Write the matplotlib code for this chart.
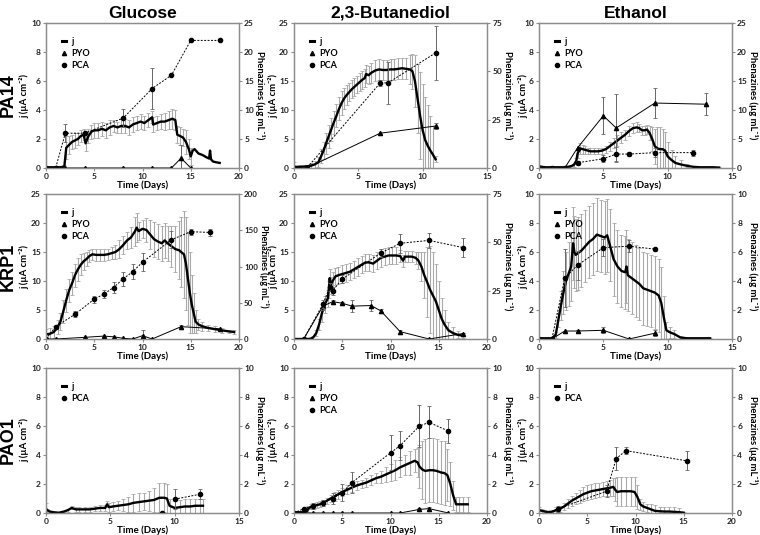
import numpy as np
import matplotlib.pyplot as plt
from matplotlib.lines import Line2D

plt.rcParams['font.family'] = ['Lato', 'DejaVu Sans']
plt.rcParams['font.weight'] = 'bold'

# ---------------- PA14 / Glucose ----------------
pa14_glu_t = [0, 0.5, 1, 1.5, 1.9, 2.1, 2.4, 2.7, 3, 3.3, 3.6, 3.9, 4.1, 4.4, 4.7, 5, 5.4, 5.8, 6.2, 6.6,
              7, 7.4, 7.8, 8.2, 8.6, 9, 9.4, 9.8, 10.2, 10.6, 11, 11.1, 11.5, 11.9, 12.3, 12.7, 13.1, 13.4,
              13.6, 13.9, 14.2, 14.5, 14.8, 15, 15.2, 15.4, 15.8, 16.2, 16.6, 16.9, 17, 17.1, 17.3, 17.6, 18]
pa14_glu_j = [0.05, 0.05, 0.05, 0.05, 0.1, 1.4, 1.6, 1.8, 1.9, 2.0, 2.2, 2.3, 1.7, 2.2, 2.5, 2.6, 2.6, 2.7,
              2.6, 2.8, 2.9, 2.8, 2.9, 2.9, 2.8, 3.0, 3.1, 3.2, 3.1, 3.3, 3.5, 3.0, 3.1, 3.2, 3.2, 3.3, 3.4,
              3.3, 2.3, 2.2, 2.1, 1.8, 1.3, 0.8, 1.2, 1.3, 1.0, 0.9, 0.75, 0.65, 1.2, 0.6, 0.45, 0.4, 0.35]
pa14_glu_jerr = [0, 0, 0, 0, 0.1, 0.8, 0.6, 0.5, 0.5, 0.4, 0.4, 0.4, 0.5, 0.5, 0.5, 0.5, 0.5, 0.5, 0.5,
                 0.5, 0.4, 0.4, 0.5, 0.5, 0.5, 0.5, 0.5, 0.5, 0.5, 0.5, 0.4, 0.5, 0.5, 0.5, 0.6, 0.6, 0.7,
                 0.7, 0.6, 0.6, 0.6, 0.8, 0.7, 0.6, 0, 0, 0, 0, 0, 0, 0, 0, 0, 0, 0]
pa14_glu_pca_t = [0, 1, 2, 4, 8, 11, 13, 15, 18]
pa14_glu_pca = [0, 0, 6.0, 6.0, 8.6, 13.7, 16, 22, 22]
pa14_glu_pca_err = [0, 0, 1.6, 0, 1.5, 3.6, 0, 0, 0]
pa14_glu_pyo_t = [0, 1, 2, 4, 8, 11, 13, 14, 15]
pa14_glu_pyo = [0, 0, 0, 0, 0, 0, 0, 1.7, 0]
pa14_glu_pyo_err = [0, 0, 0, 0, 0, 0, 0, 2.2, 0]

# ---------------- PA14 / 2,3-Butanediol ----------------
pa14_but_t = [0, 0.5, 1, 1.3, 1.6, 1.9, 2.1, 2.3, 2.5, 2.7, 2.9, 3.1, 3.3, 3.5, 3.7, 3.9, 4.1, 4.3, 4.5, 4.7,
              4.9, 5.1, 5.3, 5.5, 5.6, 5.8, 6.0, 6.3, 6.6, 6.9, 7.2, 7.5, 7.8, 8.1, 8.4, 8.7, 9.0, 9.2, 9.4,
              9.6, 9.8, 10.0, 10.2, 10.4, 10.6, 10.8, 11.0]
pa14_but_j = [0.2, 0.2, 0.3, 0.4, 0.6, 1.0, 2.0, 3.0, 4.3, 5.5, 6.7, 7.9, 9.0, 10.2, 11.2, 12.0, 12.6, 13.1,
              13.6, 14.0, 14.4, 14.8, 15.2, 15.5, 16.2, 16.0, 16.4, 16.8, 17.0, 16.9, 16.9, 17.0, 17.0, 17.1,
              17.2, 17.1, 17.0, 16.7, 15.0, 12.0, 9.0, 6.5, 4.8, 3.8, 3.0, 2.3, 1.5]
pa14_but_jerr = [0.8, 0.3, 0.3, 0.4, 0.6, 0.9, 1.2, 1.5, 1.8, 2.0, 2.0, 2.0, 2.0, 2.0, 2.0, 1.8, 1.7, 1.6,
                 1.5, 1.5, 1.5, 1.5, 1.5, 1.5, 1.5, 1.6, 1.7, 1.8, 1.8, 1.8, 1.8, 1.8, 1.8, 1.8, 1.8, 1.8,
                 2.5, 3.0, 4.5, 6.0, 7.5, 8.0, 7.5, 7.0, 6.0, 5.0, 0.5]
pa14_but_pca_t = [0, 1, 6.7, 7.3, 11]
pa14_but_pca = [0, 0, 44, 44, 59.5]
pa14_but_pca_err = [0, 0, 1.5, 11, 14]
pa14_but_pyo_t = [0, 1, 6.7, 11]
pa14_but_pyo = [0, 0, 18, 21.7]
pa14_but_pyo_err = [0, 0, 0, 1.5]

# ---------------- PA14 / Ethanol ----------------
pa14_eth_t = [0, 0.5, 1, 1.5, 2, 2.4, 2.7, 2.9, 3.0, 3.2, 3.4, 3.6, 3.8, 4.0, 4.3, 4.6, 4.9, 5.2, 5.5, 5.8,
              6.1, 6.4, 6.7, 7.0, 7.3, 7.6, 7.8, 8.0, 8.2, 8.4, 8.6, 8.8, 9.0, 9.2, 9.4, 9.6, 9.8, 10.0,
              10.3, 10.6, 11.0, 11.5, 12, 12.5, 13, 13.5, 14]
pa14_eth_j = [0.1, 0.05, 0.05, 0.05, 0.05, 0.1, 0.2, 0.5, 1.0, 1.35, 1.3, 1.25, 1.2, 1.15, 1.15, 1.15, 1.2,
              1.3, 1.5, 1.7, 1.9, 2.1, 2.3, 2.55, 2.75, 2.8, 2.75, 2.6, 2.6, 2.65, 2.4, 2.0, 1.5, 1.35, 1.3,
              1.3, 1.2, 0.8, 0.55, 0.35, 0.25, 0.15, 0.08, 0.05, 0.05, 0.05, 0.03]
pa14_eth_jerr = [0.1, 0.05, 0.05, 0.05, 0.05, 0.05, 0.1, 0.2, 0.3, 0.35, 0.3, 0.25, 0.2, 0.2, 0.2, 0.2, 0.2,
                 0.25, 0.3, 0.35, 0.35, 0.35, 0.35, 0.35, 0.35, 0.35, 0.3, 0.3, 0.3, 0.3, 0.5, 0.8, 1.2,
                 1.5, 1.5, 1.4, 1.3, 1.0, 0.7, 0.5, 0.3, 0.1, 0.05, 0.05, 0.05, 0.03, 0.03]
pa14_eth_pyo_t = [0, 1, 2, 3, 5, 6, 9, 13]
pa14_eth_pyo = [0, 0, 0, 3.5, 9.0, 6.9, 11.2, 11.0]
pa14_eth_pyo_err = [0, 0, 0, 0, 3.2, 5.8, 2.6, 1.85]
pa14_eth_pca_t = [0, 1, 2, 3, 5, 6, 7, 9, 12]
pa14_eth_pca = [0, 0, 0, 0.9, 1.6, 2.4, 2.4, 2.65, 2.65]
pa14_eth_pca_err = [0.3, 0, 0, 0.3, 0.6, 1.2, 0.4, 0.8, 0.5]

# ---------------- KRP1 / Glucose ----------------
krp1_glu_t = [0, 0.4, 0.8, 1.2, 1.5, 1.8, 2.1, 2.4, 2.7, 3.0, 3.3, 3.6, 3.9, 4.2, 4.5, 4.8, 5.2, 5.6, 6.0, 6.4,
              6.8, 7.2, 7.6, 8.0, 8.4, 8.8, 9.2, 9.4, 9.6, 10.0, 10.4, 10.8, 11.2, 11.6, 12.0, 12.3, 12.6,
              13.0, 13.4, 13.8, 14.0, 14.3, 14.5, 14.7, 14.9, 15.1, 15.3, 15.5, 15.8, 16.2, 16.8, 17.5,
              18.2, 19, 19.5]
krp1_glu_j = [0.8, 0.9, 1.2, 2.0, 3.0, 4.8, 6.7, 8.4, 9.6, 11.0, 12.0, 12.8, 13.4, 13.8, 14.3, 14.6, 14.5,
              14.5, 14.5, 14.6, 14.8, 15.0, 15.5, 16.2, 17.0, 17.5, 18.5, 19.2, 18.6, 19.0, 18.8, 18.0, 17.2,
              16.8, 16.5, 17.0, 16.5, 16.0, 15.5, 15.3, 15.0, 14.6, 13.0, 10.5, 8.0, 6.0, 4.5, 3.0, 2.5, 2.2,
              1.9, 1.7, 1.5, 1.3, 1.2]
krp1_glu_jerr = [1.0, 1.0, 1.0, 1.2, 1.5, 2.0, 2.0, 2.0, 2.0, 2.0, 2.0, 1.8, 1.5, 1.2, 1.0, 1.0, 1.0, 1.0,
                 1.0, 1.0, 1.0, 1.2, 1.5, 1.5, 1.5, 1.8, 2.5, 2.5, 1.5, 1.5, 2.0, 2.5, 3.0, 3.0, 3.0, 3.0,
                 3.0, 3.5, 4.0, 5.0, 6.0, 7.5, 8.0, 8.0, 7.0, 5.0, 3.5, 2.0, 1.0, 0.8, 0.6, 0.5, 0.4, 0.3, 0.3]
krp1_glu_pca_t = [0, 1, 3, 5, 6, 7, 8, 9, 10, 13, 15, 17]
krp1_glu_pca = [0, 17, 34, 55, 62, 71, 83, 93, 106, 137, 148, 147]
krp1_glu_pca_err = [0, 3, 4, 5, 5, 7, 10, 10, 12, 12, 4, 5]
krp1_glu_pyo_t = [0, 1, 4, 6, 7, 8, 9, 10, 11, 14, 18]
krp1_glu_pyo = [0, 0, 2.3, 4, 3, 1, 0, 4.6, 0, 17, 14]
krp1_glu_pyo_err = [0, 0, 0, 0, 0, 0, 0, 8, 0, 3, 0]

# ---------------- KRP1 / 2,3-Butanediol ----------------
krp1_but_t = [0, 1, 1.5, 1.8, 2.0, 2.3, 2.6, 2.9, 3.2, 3.5, 3.6, 3.7, 3.8, 4.0, 4.3, 4.6, 5.0, 5.4, 5.8, 6.2,
              6.6, 7.0, 7.4, 7.8, 8.2, 8.6, 9.0, 9.4, 9.8, 10.2, 10.6, 11.0, 11.3, 11.5, 11.8, 12.2, 12.6,
              12.9, 13.2, 13.5, 13.8, 14.1, 14.4, 14.7, 15.0, 15.3, 15.6, 16.0, 16.5, 17.0, 17.5]
krp1_but_j = [0, 0, 0, 0.1, 0.3, 1.0, 2.5, 4.5, 6.0, 7.0, 8.5, 10.5, 9.2, 10.0, 10.8, 11.0, 11.2, 11.4,
              11.6, 12.0, 12.4, 12.8, 13.2, 13.2, 13.0, 13.5, 14.0, 14.2, 14.4, 14.4, 14.4, 14.3, 13.5,
              14.2, 14.2, 14.2, 14.0, 13.5, 12.5, 11.0, 9.8, 8.5, 7.5, 6.5, 5.0, 3.5, 2.5, 1.5, 1.0, 0.7, 0.6]
krp1_but_jerr = [0, 0, 0, 0.1, 0.3, 0.5, 1.0, 1.5, 1.5, 1.5, 1.5, 1.5, 1.5, 1.5, 1.5, 1.5, 1.5, 1.5, 1.5,
                 1.5, 1.5, 1.5, 1.5, 1.5, 1.5, 1.5, 1.5, 1.5, 1.5, 1.5, 1.5, 1.0, 1.0, 1.0, 1.0, 1.0, 1.0,
                 1.5, 2.5, 4.0, 6.0, 7.5, 7.5, 6.5, 5.0, 3.5, 2.5, 1.5, 1.0, 0.6, 0.5]
krp1_but_pca_t = [1, 3, 3.7, 4, 5, 9, 11, 14, 17.5]
krp1_but_pca = [0, 18, 27, 25, 31, 44.5, 49.5, 51, 47.3]
krp1_but_pca_err = [0, 2, 2, 2, 2, 2, 5, 4, 5]
krp1_but_pyo_t = [1, 3, 4, 5, 6, 8, 9, 11, 14, 17.5]
krp1_but_pyo = [0, 17, 19.3, 18.5, 17, 17.3, 14.5, 3.8, 0, 2.8]
krp1_but_pyo_err = [0, 2, 1, 0.5, 3, 3, 1, 1, 0, 0.5]

# ---------------- KRP1 / Ethanol ----------------
krp1_eth_t = [0, 0.5, 1, 1.3, 1.5, 1.7, 1.9, 2.1, 2.3, 2.5, 2.65, 2.75, 2.85, 3.0, 3.3, 3.6, 3.9, 4.2, 4.5,
              4.8, 5.1, 5.3, 5.5, 5.8, 6.1, 6.4, 6.7, 6.8, 6.9, 7.2, 7.5, 7.8, 8.1, 8.4, 8.7, 9.0, 9.3, 9.5,
              9.7, 9.9, 10.2, 10.5, 11, 11.5, 12, 12.5, 13, 13.3]
krp1_eth_j = [0.05, 0.05, 0.05, 0.3, 1.3, 2.3, 3.2, 4.0, 4.5, 5.0, 6.6, 6.0, 5.8, 5.9, 6.1, 6.4, 6.7, 6.9,
              7.2, 7.1, 7.0, 7.15, 6.5, 5.5, 5.0, 4.7, 4.6, 5.0, 4.4, 4.2, 4.0, 3.8, 3.5, 3.4, 3.3, 3.2, 3.0,
              2.5, 1.5, 0.6, 0.45, 0.35, 0.1, 0.05, 0.05, 0.05, 0.05, 0.05]
krp1_eth_jerr = [0.05, 0.05, 0.05, 0.2, 0.5, 1.0, 1.5, 2.0, 2.2, 2.4, 2.5, 2.5, 2.5, 2.5, 2.5, 2.5, 2.5,
                 2.5, 2.5, 2.5, 2.5, 2.5, 2.5, 2.5, 2.5, 2.5, 2.5, 2.5, 2.5, 2.5, 2.5, 2.5, 2.5, 2.5, 2.5,
                 2.5, 2.5, 2.5, 1.5, 0.6, 0.4, 0.3, 0.1, 0.05, 0.05, 0.05, 0.05, 0.05]
krp1_eth_pca_t = [0, 1, 2, 3, 5, 7, 9]
krp1_eth_pca = [0, 0, 4.2, 5.1, 6.3, 6.4, 6.2]
krp1_eth_pca_err = [0, 0, 2.0, 1.0, 0.6, 0.4, 0.1]
krp1_eth_pyo_t = [1, 2, 3, 5, 7, 9]
krp1_eth_pyo = [0, 0.55, 0.55, 0.6, 0, 0.4]
krp1_eth_pyo_err = [0, 0, 0.1, 0.2, 0, 0.2]

# ---------------- PAO1 / Glucose ----------------
pao1_glu_t = [0, 0.1, 0.3, 0.6, 1.0, 1.4, 1.7, 2.0, 2.3, 2.6, 3.0, 3.4, 3.8, 4.2, 4.6, 4.75, 4.9, 5.2, 5.6,
              6.0, 6.4, 6.8, 7.2, 7.6, 8.0, 8.4, 8.8, 9.2, 9.4, 9.6, 10.0, 10.4, 10.8, 11.2, 11.6, 12.0, 12.2]
pao1_glu_j = [0.3, 0.2, 0.1, 0.05, 0.02, 0.1, 0.2, 0.35, 0.25, 0.25, 0.25, 0.25, 0.3, 0.35, 0.35, 0.6, 0.4,
              0.45, 0.5, 0.55, 0.6, 0.7, 0.75, 0.8, 0.85, 0.9, 1.05, 1.05, 1.0, 0.5, 0.35, 0.4, 0.45, 0.45,
              0.5, 0.5, 0.5]
pao1_glu_jerr = [0.4, 0.1, 0.05, 0.02, 0.02, 0.05, 0.1, 0.1, 0.15, 0.15, 0.15, 0.15, 0.15, 0.2, 0.2, 0.2,
                 0.3, 0.3, 0.3, 0.4, 0.5, 0.6, 0.6, 0.6, 0.7, 0.8, 1.0, 1.0, 1.0, 0.5, 0.5, 0.5, 0.5, 0.5,
                 0.5, 0.5, 0.5]
pao1_glu_pca_t = [9, 10, 12]
pao1_glu_pca = [0, 0.95, 1.3]
pao1_glu_pca_err = [0, 0.7, 0.35]

# ---------------- PAO1 / 2,3-Butanediol ----------------
pao1_but_t = [0, 0.5, 1, 1.3, 1.5, 1.8, 2.1, 2.4, 2.7, 3.0, 3.4, 3.8, 4.2, 4.6, 5.0, 5.5, 6.0, 6.5, 7.0, 7.5,
              8.0, 8.5, 9.0, 9.5, 10.0, 10.5, 11.0, 11.5, 12.0, 12.5, 12.8, 13.0, 13.3, 13.6, 14.0, 14.4,
              14.8, 15.2, 15.6, 15.9, 16.2, 16.5, 16.8, 17.1, 17.5, 18.0]
pao1_but_j = [0.05, 0.05, 0.05, 0.1, 0.3, 0.45, 0.5, 0.55, 0.6, 0.7, 0.85, 1.0, 1.15, 1.3, 1.45, 1.6, 1.75,
              1.9, 2.0, 2.1, 2.25, 2.4, 2.5, 2.65, 2.8, 2.95, 3.15, 3.3, 3.45, 3.6, 3.5, 3.2, 3.0, 2.9, 2.95,
              2.95, 2.9, 2.8, 2.75, 2.6, 2.0, 1.2, 0.6, 0.6, 0.6, 0.6]
pao1_but_jerr = [0.1, 0.1, 0.1, 0.15, 0.2, 0.2, 0.2, 0.2, 0.2, 0.2, 0.2, 0.25, 0.3, 0.3, 0.3, 0.3, 0.3, 0.3,
                 0.3, 0.3, 0.35, 0.35, 0.4, 0.5, 0.6, 0.7, 0.7, 0.7, 0.8, 0.8, 1.0, 1.5, 2.0, 2.2, 2.2, 2.2,
                 2.2, 2.2, 2.2, 1.8, 1.5, 1.0, 0.5, 0.5, 0.5, 0.5]
pao1_but_pca_t = [0, 1, 2, 3, 4, 5, 6, 10, 11, 13, 14, 16]
pao1_but_pca = [0, 0.3, 0.5, 0.7, 1.0, 1.4, 2.1, 4.15, 4.65, 6.0, 6.25, 5.65]
pao1_but_pca_err = [0, 0, 0.2, 0.2, 0.35, 0.6, 0.7, 1.2, 1.0, 1.45, 1.1, 0.8]
pao1_but_pyo_t = [0, 1, 2, 3, 4, 5, 6, 10, 11, 13, 14, 16]
pao1_but_pyo = [0, 0, 0, 0, 0, 0, 0, 0, 0, 0.25, 0.3, 0]
pao1_but_pyo_err = [0, 0, 0, 0, 0, 0, 0, 0, 0, 0.1, 0.1, 0]

# ---------------- PAO1 / Ethanol ----------------
pao1_eth_t = [0, 0.3, 0.6, 1.0, 1.4, 1.8, 2.2, 2.6, 3.0, 3.4, 3.8, 4.2, 4.6, 5.0, 5.4, 5.8, 6.2, 6.6, 7.0,
              7.4, 7.7, 7.9, 8.1, 8.5, 9.0, 9.5, 9.9, 10.2, 10.5, 10.8, 11.2, 11.6, 12.0, 12.5, 13.0, 13.5,
              14.0, 14.5, 15.0]
pao1_eth_j = [0.2, 0.15, 0.1, 0.05, 0.1, 0.2, 0.3, 0.45, 0.65, 0.85, 1.0, 1.15, 1.3, 1.4, 1.5, 1.55, 1.6,
              1.65, 1.7, 1.75, 1.8, 1.6, 1.45, 1.5, 1.5, 1.5, 1.45, 1.1, 0.6, 0.45, 0.35, 0.25, 0.15, 0.12,
              0.1, 0.1, 0.08, 0.06, 0.02]
pao1_eth_jerr = [0.2, 0.15, 0.1, 0.1, 0.1, 0.2, 0.2, 0.25, 0.3, 0.35, 0.4, 0.45, 0.5, 0.5, 0.5, 0.5, 0.5,
                 0.5, 0.5, 0.55, 0.6, 0.8, 1.0, 1.0, 1.0, 1.0, 1.0, 0.8, 0.4, 0.3, 0.3, 0.4, 0.4, 0.3, 0.3,
                 0.3, 0.3, 0.3, 0.05]
pao1_eth_pca_t = [1, 2, 7, 8, 9, 15.3]
pao1_eth_pca = [0, 0.3, 1.5, 3.75, 4.3, 3.6]
pao1_eth_pca_err = [0, 0.2, 0.4, 0.8, 0.25, 0.65]

col_titles = ['Glucose', '2,3-Butanediol', 'Ethanol']
row_titles = ['PA14', 'KRP1', 'PAO1']

panels = [
    # (row, col, j data, pyo data or None, pca data, xmax, jmax, phzmax, phz tick step)
    (0, 0, (pa14_glu_t, pa14_glu_j, pa14_glu_jerr), (pa14_glu_pyo_t, pa14_glu_pyo, pa14_glu_pyo_err),
     (pa14_glu_pca_t, pa14_glu_pca, pa14_glu_pca_err), 20, 10, 25, 5),
    (0, 1, (pa14_but_t, pa14_but_j, pa14_but_jerr), (pa14_but_pyo_t, pa14_but_pyo, pa14_but_pyo_err),
     (pa14_but_pca_t, pa14_but_pca, pa14_but_pca_err), 15, 25, 75, 25),
    (0, 2, (pa14_eth_t, pa14_eth_j, pa14_eth_jerr), (pa14_eth_pyo_t, pa14_eth_pyo, pa14_eth_pyo_err),
     (pa14_eth_pca_t, pa14_eth_pca, pa14_eth_pca_err), 15, 10, 25, 5),
    (1, 0, (krp1_glu_t, krp1_glu_j, krp1_glu_jerr), (krp1_glu_pyo_t, krp1_glu_pyo, krp1_glu_pyo_err),
     (krp1_glu_pca_t, krp1_glu_pca, krp1_glu_pca_err), 20, 25, 200, 50),
    (1, 1, (krp1_but_t, krp1_but_j, krp1_but_jerr), (krp1_but_pyo_t, krp1_but_pyo, krp1_but_pyo_err),
     (krp1_but_pca_t, krp1_but_pca, krp1_but_pca_err), 20, 25, 75, 25),
    (1, 2, (krp1_eth_t, krp1_eth_j, krp1_eth_jerr), (krp1_eth_pyo_t, krp1_eth_pyo, krp1_eth_pyo_err),
     (krp1_eth_pca_t, krp1_eth_pca, krp1_eth_pca_err), 15, 10, 10, 2),
    (2, 0, (pao1_glu_t, pao1_glu_j, pao1_glu_jerr), None,
     (pao1_glu_pca_t, pao1_glu_pca, pao1_glu_pca_err), 15, 10, 10, 2),
    (2, 1, (pao1_but_t, pao1_but_j, pao1_but_jerr), (pao1_but_pyo_t, pao1_but_pyo, pao1_but_pyo_err),
     (pao1_but_pca_t, pao1_but_pca, pao1_but_pca_err), 20, 10, 10, 2),
    (2, 2, (pao1_eth_t, pao1_eth_j, pao1_eth_jerr), None,
     (pao1_eth_pca_t, pao1_eth_pca, pao1_eth_pca_err), 20, 10, 10, 2),
]

fig = plt.figure(figsize=(7.6, 5.35), dpi=100)

col_left = [46, 294, 539]
row_top = [23, 194, 368]
W, H = 760.0, 535.0
aw, ah = 193, 145
jlab_x = [-0.11, -0.106, -0.08]

grey = '#8c8c8c'


def style(a, size=6):
    for s in a.spines.values():
        s.set_color(grey)
        s.set_linewidth(0.9)
    a.tick_params(colors=grey, labelcolor='#222222', labelsize=size, length=2.5, width=0.8, pad=1.2)


def with_err(t, v, e):
    t, v, e = np.array(t), np.array(v), np.array(e)
    m = e > 0
    return t[m], v[m], e[m]


for (r, c, jd, pyo, pca, xmax, jmax, pmax, pstep) in panels:
    ax = fig.add_axes([col_left[c] / W, 1 - (row_top[r] + ah) / H, aw / W, ah / H])
    ax2 = ax.twinx()

    t, j, je = jd
    et, ej, ee = with_err(t, j, je)
    ax.errorbar(et, ej, yerr=ee, fmt='none', ecolor='#a9a9a9', elinewidth=0.8, capsize=1.5, capthick=0.6)
    ax.plot(t, j, color='black', lw=1.7, zorder=5)

    if pyo is not None:
        pt, pv, pe = pyo
        et, ev, ee = with_err(pt, pv, pe)
        ax2.errorbar(et, ev, yerr=ee, fmt='none', ecolor='#666666', elinewidth=0.7, capsize=1.5, capthick=0.6)
        ax2.plot(pt, pv, color='black', lw=0.7, marker='^', ms=3)

    ct, cv, ce = pca
    et, ev, ee = with_err(ct, cv, ce)
    ax2.errorbar(et, ev, yerr=ee, fmt='none', ecolor='#666666', elinewidth=0.7, capsize=1.5, capthick=0.6)
    if r == 2 and c == 0:
        ax2.plot(ct[1:], cv[1:], color='black', lw=0.7, ls=(0, (2, 1.5)))
        ax2.plot(ct, cv, color='black', lw=0, marker='o', ms=3)
    else:
        ax2.plot(ct, cv, color='black', lw=0.7, ls=(0, (2, 1.5)), marker='o', ms=3)

    ax.set_xlim(0, xmax)
    ax.set_ylim(0, jmax)
    ax2.set_ylim(0, pmax)
    ax.set_xticks(np.arange(0, xmax + 1, 5))
    ax.set_yticks(np.arange(0, jmax + 0.1, 5 if jmax == 25 else 2))
    ax2.set_yticks(np.arange(0, pmax + 0.1, pstep))
    wide = pmax >= 100
    style(ax)
    style(ax2, 5.7 if wide else 6)

    ax.set_xlabel('Time (Days)', fontsize=7, fontweight='bold', labelpad=0.5)
    ax.set_ylabel('j (µA cm⁻²)', fontsize=6.8, fontweight='bold', va='center')
    ax.yaxis.set_label_coords(jlab_x[c], 0.5)
    ax2.set_ylabel('Phenazines (µg mL⁻¹)', fontsize=6.4 if wide else 6.8, fontweight='bold',
                   rotation=270, va='center')
    ax2.yaxis.set_label_coords(1.132 if wide else 1.108, 0.5)

    handles = [Line2D([], [], color='black', lw=2.2)]
    labels = ['j']
    if pyo is not None:
        handles.append(Line2D([], [], color='black', lw=0, marker='^', ms=3))
        labels.append('PYO')
    handles.append(Line2D([], [], color='black', lw=0, marker='o', ms=3))
    labels.append('PCA')
    leg = ax2.legend(handles, labels, loc='upper left', frameon=False, fontsize=6.5,
                     handlelength=0.5, handletextpad=0.5, labelspacing=0.35,
                     bbox_to_anchor=(0.04, 0.96))
    for tx in leg.get_texts():
        tx.set_fontweight('bold')

for c, name in enumerate(col_titles):
    fig.text((col_left[c] + aw / 2) / W, 1 - 13 / H, name, ha='center', va='center',
             fontsize=12.5, fontweight='bold', family=['Liberation Sans', 'DejaVu Sans'])
for r, name in enumerate(row_titles):
    fig.text(8.5 / W, 1 - (row_top[r] + ah / 2) / H, name, ha='center', va='center', rotation=90,
             fontsize=13, fontweight='bold', family=['Liberation Sans', 'DejaVu Sans'])

fig.savefig('out.png', dpi=100)
